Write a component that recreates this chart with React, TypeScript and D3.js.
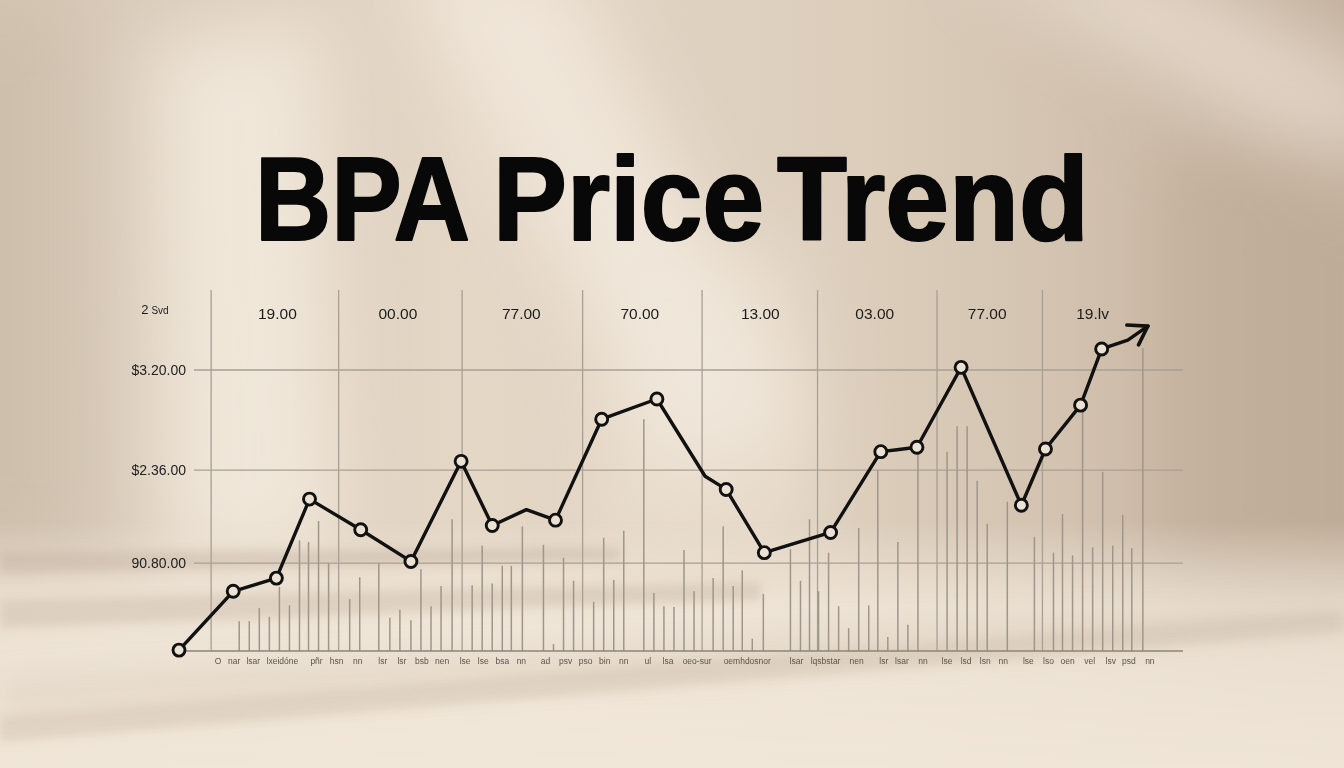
import React from 'react';
import * as d3 from 'd3';

// ---------- data ----------
const title = 'BPA Price Trend';

// header row labels (column headings) and their positions on the day axis
const headerLabels = ['2', '19.00', '00.00', '77.00', '70.00', '13.00', '03.00', '77.00', '19.lv'];
const headerDays = [-2.4, 9.8, 21.8, 34.1, 45.9, 57.9, 69.3, 80.5, 91.0];

// vertical column separators (day axis)
const columnDays = [3.2, 15.9, 28.2, 40.2, 52.1, 63.6, 75.5, 86.0];

// y ticks (price axis)
const yTickValues = [1.0, 2.06, 3.2];
const yTickLabels = ['90.80.00', '$2.36.00', '$3.20.00'];

// x tick labels along the bottom
const xLabels = ['O', 'nar', 'lsar', 'lxeidóne', 'pñr', 'hsn', 'nn', 'lsr', 'lsr', 'bsb', 'nen', 'lse', 'lse', 'bsa', 'nn', 'ad', 'psv', 'pso', 'bin', 'nn', 'ul', 'lsa', 'oeo-sur', 'oemhdosnor', 'lsar', 'lqsbstar', 'nen', 'lsr', 'lsar', 'nn', 'lse', 'lsd', 'lsn', 'nn', 'lse', 'lso', 'oen', 'vel', 'lsv', 'psd', 'nn'];
const xLabelDays = [3.9, 5.5, 7.4, 10.3, 13.7, 15.7, 17.8, 20.3, 22.2, 24.2, 26.2, 28.5, 30.3, 32.2, 34.1, 36.5, 38.5, 40.5, 42.4, 44.3, 46.7, 48.7, 51.6, 56.6, 61.5, 64.4, 67.5, 70.2, 72.0, 74.1, 76.5, 78.4, 80.3, 82.1, 84.6, 86.6, 88.5, 90.7, 92.8, 94.6, 96.7];

// price line
const lineDays = [0.0, 5.4, 9.7, 13.0, 18.1, 23.1, 28.1, 31.2, 34.6, 37.5, 42.1, 47.6, 52.4, 54.5, 58.3, 64.9, 69.9, 73.5, 77.9, 83.9, 86.3, 89.8, 91.9];
const linePrices = [0.01, 0.68, 0.83, 1.73, 1.38, 1.02, 2.16, 1.43, 1.61, 1.49, 2.64, 2.87, 1.99, 1.84, 1.12, 1.35, 2.27, 2.32, 3.23, 1.66, 2.30, 2.80, 3.44];
const lineMarked = [1, 1, 1, 1, 1, 1, 1, 1, 0, 1, 1, 1, 0, 1, 1, 1, 1, 1, 1, 1, 1, 1, 1];
// arrow continuation after last point
const arrowDays = [91.9, 94.5, 96.5];
const arrowPrices = [3.44, 3.54, 3.70];

// thin volume bars
const barDays = [6.0, 7.0, 8.0, 9.0, 10.0, 11.0, 12.0, 12.9, 13.9, 14.9, 17.0, 18.0, 19.9, 21.0, 22.0, 23.1, 24.1, 25.1, 26.1, 27.2, 29.2, 30.2, 31.2, 32.2, 33.1, 34.2, 36.3, 37.3, 38.3, 39.3, 41.3, 42.3, 43.3, 44.3, 46.3, 47.3, 48.3, 49.3, 50.3, 51.3, 53.2, 54.2, 55.2, 56.1, 57.1, 58.2, 60.9, 61.9, 62.8, 63.7, 64.7, 65.7, 66.7, 67.7, 68.7, 69.6, 70.6, 71.6, 72.6, 73.6, 76.5, 77.5, 78.5, 79.5, 80.5, 82.5, 85.2, 87.1, 88.0, 89.0, 90.0, 91.0, 92.0, 93.0, 94.0, 94.9, 96.0];
const barValues = [0.34, 0.34, 0.49, 0.39, 0.73, 0.52, 1.26, 1.24, 1.48, 1.0, 0.59, 0.84, 1.0, 0.38, 0.47, 0.35, 0.93, 0.51, 0.74, 1.5, 0.75, 1.2, 0.77, 0.97, 0.97, 1.42, 1.21, 0.08, 1.06, 0.8, 0.56, 1.29, 0.81, 1.37, 2.64, 0.66, 0.51, 0.5, 1.15, 0.68, 0.83, 1.42, 0.74, 0.92, 0.14, 0.65, 1.16, 0.8, 1.5, 0.68, 1.12, 0.51, 0.26, 1.4, 0.52, 2.06, 0.16, 1.24, 0.3, 2.32, 2.27, 2.56, 2.56, 1.94, 1.45, 1.7, 1.3, 1.12, 1.56, 1.09, 2.74, 1.18, 2.04, 1.2, 1.55, 1.17, 3.45];

// ---------- layout ----------
const W = 1344;
const H = 768;
const baseY = 651;
const topPriceY = 370;
const headerTop = 290;
const plotLeft = 179;
const plotRight = 1183;
const gridLeft = 194;
const titleWordStarts = [255, 493, 777];
const titleWordWidths = [215, 271, 312];

export default function App() {
  const x = d3.scaleLinear().domain([0, 100]).range([plotLeft, plotRight]);
  const y = d3.scaleLinear().domain([0, 3.2]).range([baseY, topPriceY]);

  const pts = lineDays.map((d, i) => ({ d, p: linePrices[i], m: lineMarked[i] }));
  const line = d3
    .line<{ d: number; p: number }>()
    .x((q) => x(q.d))
    .y((q) => y(q.p))
    .curve(d3.curveLinear);
  const arrowPts = arrowDays.map((d, i) => ({ d, p: arrowPrices[i] }));

  // arrow head
  const n = arrowPts.length;
  const tx = x(arrowPts[n - 1].d);
  const ty = y(arrowPts[n - 1].p);
  const px = x(arrowPts[n - 2].d);
  const py = y(arrowPts[n - 2].p);
  const ang = Math.atan2(ty - py, tx - px);
  const hl = 21;
  const a1 = ang + Math.PI - 0.5;
  const a2 = ang + Math.PI + 0.66;
  const head = `M${tx + hl * Math.cos(a1)},${ty + hl * Math.sin(a1)} L${tx},${ty} L${tx + hl * Math.cos(a2)},${ty + hl * Math.sin(a2)}`;

  const font = "'Liberation Sans', Arial, Helvetica, sans-serif";
  const gridColor = '#a89f95';
  const words = title.split(' ');

  return (
    <svg
      width={W}
      height={H}
      viewBox={`0 0 ${W} ${H}`}
      style={{ position: 'absolute', left: 0, top: 0, display: 'block' }}
    >
      <defs>
        <linearGradient id="bgBase" x1="0" y1="0" x2="1" y2="0">
          <stop offset="0" stopColor="#d6c7b5" />
          <stop offset="0.35" stopColor="#e4d7c6" />
          <stop offset="0.65" stopColor="#dccdbb" />
          <stop offset="1" stopColor="#c4b29f" />
        </linearGradient>
        <linearGradient id="bottomLight" x1="0" y1="0" x2="0" y2="1">
          <stop offset="0" stopColor="#f3eadd" stopOpacity="0" />
          <stop offset="0.35" stopColor="#f3eadd" stopOpacity="0.75" />
          <stop offset="1" stopColor="#f1e7d9" stopOpacity="0.95" />
        </linearGradient>
        <filter id="blurBig" x="-50%" y="-50%" width="200%" height="200%">
          <feGaussianBlur stdDeviation="36" />
        </filter>
        <filter id="blurMid" x="-50%" y="-50%" width="200%" height="200%">
          <feGaussianBlur stdDeviation="14" />
        </filter>
        <filter id="blurSmall" x="-20%" y="-50%" width="140%" height="200%">
          <feGaussianBlur stdDeviation="5" />
        </filter>
      </defs>

      {/* background */}
      <rect x={0} y={0} width={W} height={H} fill="url(#bgBase)" />
      <g filter="url(#blurBig)">
        <polygon points="150,40 320,20 340,560 160,570" fill="#f5ede1" opacity={0.75} />
        <polygon points="400,-40 560,-40 820,430 660,470" fill="#f5ede1" opacity={0.7} />
        <polygon points="600,250 800,240 820,560 600,560" fill="#f2e9db" opacity={0.45} />
        <polygon points="960,-40 1140,-40 1400,80 1400,210" fill="#f3e8da" opacity={0.6} />
        <polygon points="1160,140 1400,140 1400,600 1160,600" fill="#b9a48e" opacity={0.45} />
        <polygon points="-60,0 70,0 70,560 -60,560" fill="#c8b8a6" opacity={0.5} />
      </g>
      <rect x={0} y={520} width={W} height={248} fill="url(#bottomLight)" />
      <g filter="url(#blurSmall)">
        <polygon points="0,552 620,548 620,560 0,574" fill="#b9a793" opacity={0.35} />
        <polygon points="0,600 760,582 760,600 0,628" fill="#b9a793" opacity={0.3} />
        <polygon points="0,716 1344,610 1344,632 0,742" fill="#c1af9b" opacity={0.3} />
      </g>
      <g filter="url(#blurMid)">
        <polygon points="0,680 700,640 1344,600 1344,620 700,672 0,712" fill="#c7b6a3" opacity={0.25} />
      </g>

      {/* title */}
      {words.map((w, i) => (
        <text
          key={'t' + i}
          x={titleWordStarts[i]}
          y={240}
          textAnchor="start"
          fontFamily={font}
          fontWeight={700}
          fontSize={119}
          fill="#080808"
          stroke="#080808"
          strokeWidth={2.2}
          strokeLinejoin="round"
          textLength={titleWordWidths[i]}
          lengthAdjust="spacingAndGlyphs"
        >
          {w}
        </text>
      ))}

      {/* horizontal grid */}
      {yTickValues.map((v, i) => (
        <line
          key={'h' + i}
          x1={gridLeft}
          x2={plotRight}
          y1={y(v)}
          y2={y(v)}
          stroke={gridColor}
          strokeWidth={1.3}
        />
      ))}

      {/* vertical column separators */}
      {columnDays.map((d, i) => (
        <line
          key={'v' + i}
          x1={x(d)}
          x2={x(d)}
          y1={headerTop}
          y2={baseY}
          stroke={gridColor}
          strokeWidth={1.3}
        />
      ))}

      {/* bars */}
      {barDays.map((d, i) => (
        <line
          key={'b' + i}
          x1={x(d)}
          x2={x(d)}
          y1={y(0)}
          y2={y(barValues[i])}
          stroke="#9e968c"
          strokeWidth={1.5}
        />
      ))}

      {/* baseline */}
      <line x1={x(0)} x2={plotRight} y1={baseY} y2={baseY} stroke="#8c8479" strokeWidth={1.6} />

      {/* y labels */}
      {yTickValues.map((v, i) => (
        <text
          key={'yl' + i}
          x={186}
          y={y(v)}
          dy="0.35em"
          textAnchor="end"
          fontFamily={font}
          fontSize={14}
          fill="#222"
        >
          {yTickLabels[i]}
        </text>
      ))}

      {/* header labels */}
      {headerLabels.map((t, i) => (
        <text
          key={'hd' + i}
          x={x(headerDays[i])}
          y={i === 0 ? 309 : 314}
          dy="0.35em"
          textAnchor="middle"
          fontFamily={font}
          fontSize={i === 0 ? 13 : 15.5}
          fill="#1c1c1c"
        >
          {t}
          {i === 0 ? <tspan fontSize={10} dx={3}>Svd</tspan> : null}
        </text>
      ))}

      {/* x labels */}
      {xLabels.map((t, i) => (
        <text
          key={'xl' + i}
          x={x(xLabelDays[i])}
          y={661}
          dy="0.35em"
          textAnchor="middle"
          fontFamily={font}
          fontSize={8.5}
          fill="#5a544c"
        >
          {t}
        </text>
      ))}

      {/* price line */}
      <path
        d={line(pts) || ''}
        fill="none"
        stroke="#111"
        strokeWidth={3.4}
        strokeLinejoin="round"
        strokeLinecap="round"
      />
      <path
        d={line(arrowPts) || ''}
        fill="none"
        stroke="#111"
        strokeWidth={3.4}
        strokeLinejoin="round"
        strokeLinecap="round"
      />
      <path d={head} fill="none" stroke="#111" strokeWidth={3.6} strokeLinejoin="round" strokeLinecap="round" />

      {pts
        .filter((q) => q.m)
        .map((q, i) => (
          <circle
            key={'c' + i}
            cx={x(q.d)}
            cy={y(q.p)}
            r={6}
            fill="#ece2d4"
            stroke="#111"
            strokeWidth={2.9}
          />
        ))}
    </svg>
  );
}
